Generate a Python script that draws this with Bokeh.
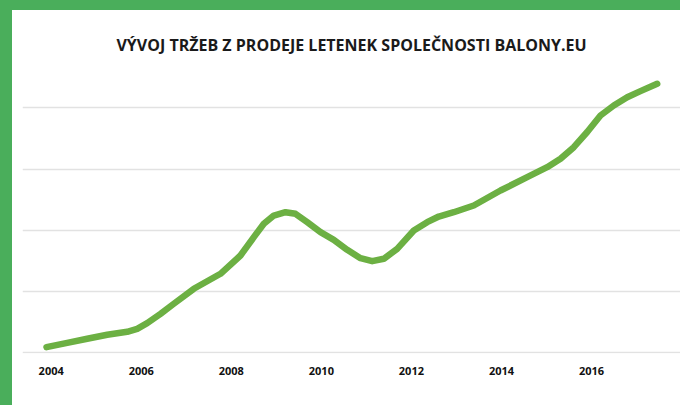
from bokeh.plotting import figure
from bokeh.models import FixedTicker, Range1d
from bokeh.embed import file_html
from bokeh.resources import INLINE

# Data (year position, revenue in grid units)
years = [2003.896, 2004.356, 2004.800, 2005.244, 2005.688, 2005.910, 2006.132,
         2006.428, 2006.723, 2007.167, 2007.760, 2008.204, 2008.500, 2008.722,
         2008.944, 2009.204, 2009.426, 2009.686, 2009.981, 2010.276, 2010.574,
         2010.869, 2011.129, 2011.387, 2011.684, 2012.053, 2012.350, 2012.608,
         2012.941, 2013.385, 2013.978, 2014.571, 2015.015, 2015.311, 2015.606,
         2015.904, 2016.199, 2016.494, 2016.792, 2017.087, 2017.458]
revenue = [0.92, 1.63, 2.29, 2.94, 3.43, 3.92, 4.84,
           6.37, 8.01, 10.46, 12.91, 15.90, 18.89, 21.08,
           22.43, 22.97, 22.71, 21.34, 19.71, 18.46, 16.83,
           15.46, 14.97, 15.36, 16.99, 19.98, 21.34, 22.27,
           22.97, 24.07, 26.52, 28.69, 30.33, 31.70, 33.59,
           36.08, 38.77, 40.41, 41.76, 42.75, 43.95]
tick_years = [2004, 2006, 2008, 2010, 2012, 2014, 2016]
grid_values = [0, 10, 20, 30, 40]
title_text = "VÝVOJ TRŽEB Z PRODEJE LETENEK SPOLEČNOSTI BALONY.EU"

GREEN_FRAME = "#4aae5b"
LINE_GREEN = "#6cb043"

p = figure(width=668, height=395, output_backend="svg", toolbar_location=None,
           tools="",
           x_range=Range1d(2003.363, 2017.976), y_range=Range1d(-0.114, 47.76),
           y_axis_location=None, title=title_text,
           min_border_left=10, min_border_right=0, min_border_top=50,
           min_border_bottom=52)

p.background_fill_color = None
p.border_fill_color = None
p.outline_line_color = None
p.styles = {"background-color": "white"}

p.title.align = "center"
p.title.text_font = "Open Sans"
p.title.text_font_style = "bold"
p.title.text_font_size = "16px"
p.title.text_color = "#1a1a1a"
p.title.offset = 0

p.xgrid.grid_line_color = None
p.ygrid.grid_line_color = None

# horizontal gridlines
p.hspan(y=grid_values, line_color="#e2e2e2", line_width=1.5)

xa = p.xaxis[0]
xa.ticker = FixedTicker(ticks=tick_years)
xa.axis_line_color = None
xa.major_tick_line_color = None
xa.minor_tick_line_color = None
xa.major_label_text_font = "Open Sans"
xa.major_label_text_font_style = "bold"
xa.major_label_text_font_size = "11px"
xa.major_label_text_color = "#111111"
xa.major_label_standoff = 7

p.line(years, revenue, line_color=LINE_GREEN, line_width=6.5,
       line_cap="round", line_join="round")

html = file_html(p, INLINE)
style = ("<style>html,body{margin:0 !important;padding:0 !important;overflow:hidden;"
         "background:" + GREEN_FRAME + " !important;}"
         "body{padding:10px 0 0 12px !important;box-sizing:border-box;}</style>")
html = html.replace("</head>", style + "</head>", 1)
open("out.html", "w").write(html)
